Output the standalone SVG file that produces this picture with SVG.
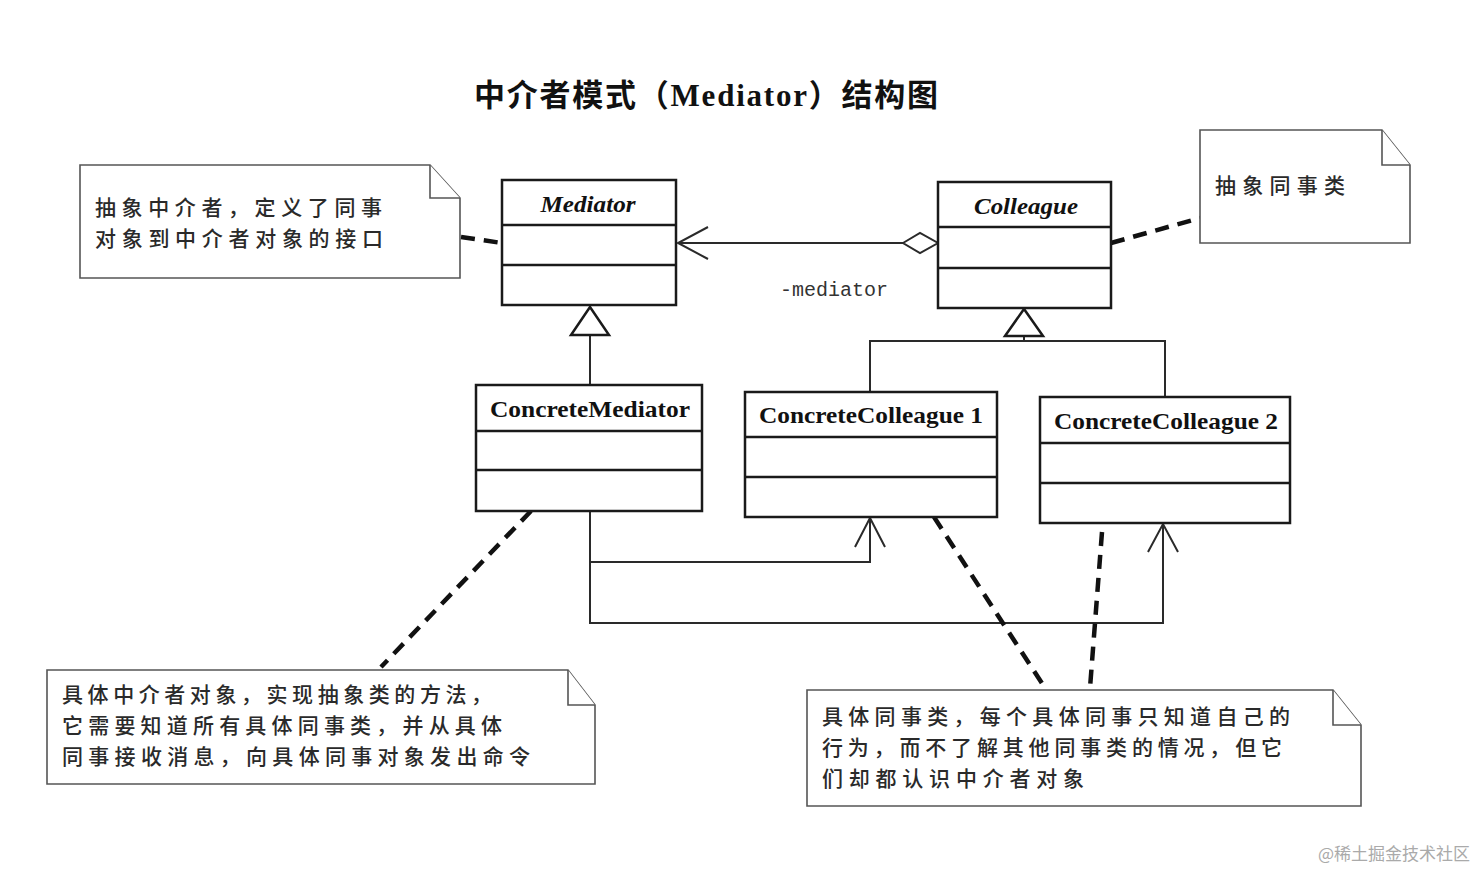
<svg xmlns="http://www.w3.org/2000/svg" width="1482" height="870" viewBox="0 0 1482 870">
<defs>
<style>
.cls{fill:#fff;stroke:#1a1a1a;stroke-width:2.5}
.div{stroke:#1a1a1a;stroke-width:2.5}
.note{fill:#fff;stroke:#555;stroke-width:1.6}
.cn{font-family:"Noto Sans CJK SC","Noto Sans",sans-serif;font-size:21px;fill:#2a2a2a;font-weight:500}
.name{font-family:"Liberation Serif",serif;font-weight:bold;font-size:23px;fill:#111;text-anchor:middle}
.it{font-style:italic}
.ln{fill:none;stroke:#2a2a2a;stroke-width:2}
.dash{fill:none;stroke:#111;stroke-width:4.5;stroke-dasharray:14,9}
</style>
</defs>
<rect width="1482" height="870" fill="#fff"/>

<g id="title">
<text x="474" y="106" font-family="'Noto Sans CJK SC',sans-serif" font-size="31" font-weight="bold" fill="#111" textLength="464" lengthAdjust="spacing">中介者模式（<tspan font-family="'Liberation Serif',serif" font-size="31">Mediator</tspan>）结构图</text>
</g>

<g id="connectors">
<!-- association Colleague -> Mediator -->
<line class="ln" x1="903" y1="243" x2="678" y2="243"/>
<path class="ln" d="M708,227 L678,243 L708,259"/>
<path d="M903,243 L920,233 L938,243 L920,253 Z" fill="#fff" stroke="#2a2a2a" stroke-width="2"/>
<text x="780" y="296" font-family="'Liberation Mono',monospace" font-size="20" fill="#333">-mediator</text>
<!-- generalization ConcreteMediator -> Mediator -->
<line class="ln" x1="590" y1="335" x2="590" y2="385"/>
<path d="M590,307 L571,335 L609,335 Z" fill="#fff" stroke="#1a1a1a" stroke-width="2.5"/>
<!-- generalization ConcreteColleagues -> Colleague -->
<path class="ln" d="M870,392 L870,341 L1165,341 L1165,397"/>
<line class="ln" x1="1024" y1="336" x2="1024" y2="341"/>
<path d="M1024,309 L1005,336 L1043,336 Z" fill="#fff" stroke="#1a1a1a" stroke-width="2.5"/>
<!-- dependencies ConcreteMediator -> ConcreteColleagues -->
<path class="ln" d="M590,511 L590,623 L1163,623 L1163,524"/>
<path class="ln" d="M590,562 L870,562 L870,518"/>
<path class="ln" d="M855,547 L870,518 L885,547"/>
<path class="ln" d="M1148,552 L1163,524 L1178,552"/>
<!-- note anchors -->
<line class="dash" x1="461" y1="237" x2="502" y2="243"/>
<line class="dash" x1="1111" y1="243" x2="1200" y2="218"/>
<line class="dash" x1="531" y1="511" x2="381" y2="667"/>
<line class="dash" x1="934" y1="517" x2="1045" y2="688"/>
<line class="dash" x1="1102" y1="532" x2="1090" y2="688"/>
</g>

<g id="Mediator">
<rect class="cls" x="502" y="180" width="174" height="125"/>
<line class="div" x1="502" y1="225" x2="676" y2="225"/>
<line class="div" x1="502" y1="265" x2="676" y2="265"/>
<text class="name it" x="588" y="212" textLength="95" lengthAdjust="spacingAndGlyphs">Mediator</text>
</g>

<g id="Colleague">
<rect class="cls" x="938" y="182" width="173" height="126"/>
<line class="div" x1="938" y1="227" x2="1111" y2="227"/>
<line class="div" x1="938" y1="268" x2="1111" y2="268"/>
<text class="name it" x="1026" y="214" textLength="104" lengthAdjust="spacingAndGlyphs">Colleague</text>
</g>

<g id="ConcreteMediator">
<rect class="cls" x="476" y="385" width="226" height="126"/>
<line class="div" x1="476" y1="431" x2="702" y2="431"/>
<line class="div" x1="476" y1="470" x2="702" y2="470"/>
<text class="name" x="590" y="417" textLength="200" lengthAdjust="spacingAndGlyphs">ConcreteMediator</text>
</g>

<g id="ConcreteColleague1">
<rect class="cls" x="745" y="392" width="252" height="125"/>
<line class="div" x1="745" y1="437" x2="997" y2="437"/>
<line class="div" x1="745" y1="477" x2="997" y2="477"/>
<text class="name" x="871" y="423" textLength="224" lengthAdjust="spacingAndGlyphs">ConcreteColleague 1</text>
</g>

<g id="ConcreteColleague2">
<rect class="cls" x="1040" y="397" width="250" height="126"/>
<line class="div" x1="1040" y1="443" x2="1290" y2="443"/>
<line class="div" x1="1040" y1="483" x2="1290" y2="483"/>
<text class="name" x="1166" y="429" textLength="224" lengthAdjust="spacingAndGlyphs">ConcreteColleague 2</text>
</g>

<g id="note-mediator">
<path class="note" d="M80,165 L430,165 L460,198 L460,278 L80,278 Z"/>
<path class="note" d="M430,165 L430,198 L460,198"/>
<text class="cn" x="95" y="215" textLength="287" lengthAdjust="spacing">抽象中介者，定义了同事</text>
<text class="cn" x="95" y="246" textLength="288" lengthAdjust="spacing">对象到中介者对象的接口</text>
</g>

<g id="note-colleague">
<path class="note" d="M1200,130 L1382,130 L1410,165 L1410,243 L1200,243 Z"/>
<path class="note" d="M1382,130 L1382,165 L1410,165"/>
<text class="cn" x="1215" y="193" textLength="130" lengthAdjust="spacing">抽象同事类</text>
</g>

<g id="note-concrete-mediator">
<path class="note" d="M47,670 L568,670 L595,705 L595,784 L47,784 Z"/>
<path class="note" d="M568,670 L568,705 L595,705"/>
<text class="cn" x="62" y="702" textLength="430" lengthAdjust="spacing">具体中介者对象，实现抽象类的方法，</text>
<text class="cn" x="62" y="733" textLength="440" lengthAdjust="spacing">它需要知道所有具体同事类，并从具体</text>
<text class="cn" x="62" y="764" textLength="468" lengthAdjust="spacing">同事接收消息，向具体同事对象发出命令</text>
</g>

<g id="note-concrete-colleague">
<path class="note" d="M807,690 L1333,690 L1361,725 L1361,806 L807,806 Z"/>
<path class="note" d="M1333,690 L1333,725 L1361,725"/>
<text class="cn" x="822" y="724" textLength="468" lengthAdjust="spacing">具体同事类，每个具体同事只知道自己的</text>
<text class="cn" x="822" y="755" textLength="460" lengthAdjust="spacing">行为，而不了解其他同事类的情况，但它</text>
<text class="cn" x="822" y="786" textLength="262" lengthAdjust="spacing">们却都认识中介者对象</text>
</g>

<text x="1318" y="860" font-family="'Noto Sans CJK SC',sans-serif" font-size="17" fill="#aaa">@稀土掘金技术社区</text>
</svg>
